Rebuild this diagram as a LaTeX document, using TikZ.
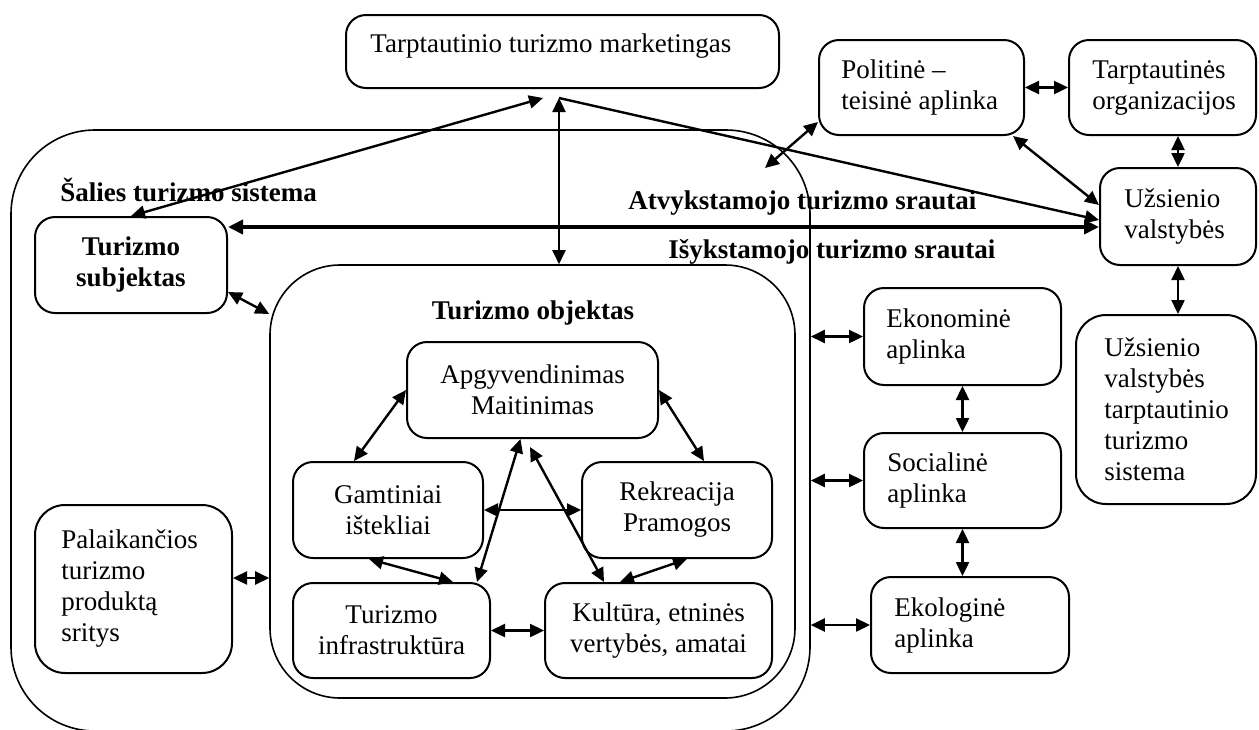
\documentclass[tikz,border=0pt]{standalone}
\usepackage{fontspec}
\setmainfont{Liberation Serif}
\usetikzlibrary{arrows.meta,calc}
\newcommand\fs{\fontsize{13.5pt}{15.5pt}\selectfont}
\tikzset{
 box/.style={draw, line width=1pt, rounded corners=10pt, inner sep=2pt, font=\fs, align=center},
 big/.style={draw, line width=0.8pt},
 lbl/.style={inner sep=0pt, align=left, font=\fs, anchor=west},
 dbl/.style={line width=1.2pt, {Triangle[length=7pt,width=6.5pt]}-{Triangle[length=7pt,width=6.5pt]}},
 sgl/.style={line width=1.2pt, -{Triangle[length=7pt,width=6.5pt]}},
}
\begin{document}
\begin{tikzpicture}[x=0.5pt,y=-0.5pt]
\useasboundingbox (0,0) rectangle (1259,729);
% big frames
\node[big, rounded corners=42pt, minimum width=399.5pt, minimum height=300.5pt] (outer) at (410.5,430.5) {};
\node[big, rounded corners=35pt, minimum width=262.5pt, minimum height=216.5pt] (inner) at (532.5,481.5) {};
% boxes
\node[box, minimum width=216.5pt, minimum height=36.5pt] (mkt) at (562.5,51.5) {};
\node[box, minimum width=102.5pt, minimum height=47.5pt] (pol) at (921.5,87.5) {};
\node[box, minimum width=93.5pt, minimum height=47.5pt] (org) at (1162.5,87.5) {};
\node[box, minimum width=78pt, minimum height=48.5pt] (uzs) at (1178,216.5) {};
\node[box, rounded corners=15pt, minimum width=90pt, minimum height=94.5pt] (sis) at (1166,409.5) {};
\node[box, minimum width=98.5pt, minimum height=48.5pt] (eko) at (962.5,336.5) {};
\node[box, minimum width=98.5pt, minimum height=47.5pt] (soc) at (962.5,480.5) {};
\node[box, minimum width=99pt, minimum height=48pt] (ekl) at (970,625) {};
\node[box, minimum width=96pt, minimum height=48pt, font=\fs\bfseries] (subj) at (131,265) {Turizmo\\subjektas};
\node[box, rounded corners=15pt, minimum width=98.5pt, minimum height=84pt] (pal) at (133.5,589) {};
\node[box, minimum width=125.5pt, minimum height=48pt] (apg) at (532.5,390) {Apgyvendinimas\\Maitinimas};
\node[box, minimum width=95pt, minimum height=48pt] (gam) at (388,510) {Gamtiniai\\ištekliai};
\node[box, minimum width=95pt, minimum height=48pt] (rek) at (677,510) {Rekreacija\\Pramogos};
\node[box, minimum width=98.5pt, minimum height=47.5pt] (inf) at (391.5,630.5) {Turizmo\\infrastruktūra};
\node[box, minimum width=113.5pt, minimum height=47.5pt] (kul) at (658.5,630.5) {Kultūra, etninės\\vertybės, amatai};
% left aligned texts
\node[lbl] (mktt) at (370,46) {Tarptautinio turizmo marketingas};
\node[lbl] (polt) at ([xshift=11.5pt]pol.west) {Politinė –\\teisinė aplinka};
\node[lbl] (orgt) at ([xshift=12pt]org.west) {Tarptautinės\\organizacijos};
\node[lbl] (uzst) at ([xshift=12.5pt]uzs.west) {Užsienio\\valstybės};
\node[lbl] (sist) at ([xshift=14.5pt]sis.west) {Užsienio\\valstybės\\tarptautinio\\turizmo\\sistema};
\node[lbl] (ekot) at ([xshift=11.5pt]eko.west) {Ekonominė\\aplinka};
\node[lbl] (soct) at ([xshift=12pt]soc.west) {Socialinė\\aplinka};
\node[lbl] (eklt) at ([xshift=12pt]ekl.west) {Ekologinė\\aplinka};
\node[lbl] (palt) at ([xshift=13.5pt]pal.west) {Palaikančios\\turizmo\\produktą\\sritys};
% bold titles
\node[lbl, font=\fs\bfseries] (salt) at (60,190) {Šalies turizmo sistema};
\node[lbl, anchor=center, font=\fs\bfseries] (objt) at (533,313) {Turizmo objektas};
\node[lbl, font=\fs\bfseries] (atvt) at (628,203) {Atvykstamojo turizmo srautai};
\node[lbl, font=\fs\bfseries] (isyt) at (668,252) {Išykstamojo turizmo srautai};
% free ends
\coordinate (m1) at (543,98);
\coordinate (m2) at (559,98);
\coordinate (pf) at (765,168);
\coordinate (ac) at (530,447);
% connectors
\draw[dbl] (m1) -- (subj.north);
\draw[dbl] (m2) -- (m2 |- inner.north);
\draw[sgl] (m2) -- ([yshift=-1.75pt]uzs.west);
\draw[line width=2pt, {Triangle[length=7.5pt,width=7pt]}-{Triangle[length=7.5pt,width=7pt]}] ([yshift=19pt]subj.east) -- ([yshift=-5.25pt]uzs.west);
\draw[dbl] ([xshift=-6pt]pol.south east) -- ([yshift=5.75pt]uzs.west);
\draw[dbl] ([yshift=-17.25pt]pol.west) -- (pf);
\draw[dbl] (pol.east) -- (org.west);
\draw[dbl] (uzs.north |- org.south) -- (uzs.north);
\draw[dbl] (uzs.south) -- (uzs.south |- sis.north);
\draw[dbl] (outer.east |- eko.west) -- (eko.west);
\draw[dbl] (outer.east |- soc.west) -- (soc.west);
\draw[dbl] (outer.east |- ekl.west) -- (ekl.west);
\draw[dbl] (eko.south) -- (soc.north);
\draw[dbl] (soc.south) -- (soc.south |- ekl.north);
\draw[dbl] ([yshift=-13.5pt]subj.east) -- (inner.west |- subj.south);
\draw[dbl] ([yshift=5.5pt]pal.east) -- ([yshift=5.5pt]pal.east -| inner.west);
\draw[dbl] (apg.west) -- ([xshift=-17pt]gam.north);
\draw[dbl] (apg.east) -- ([xshift=13.5pt]rek.north);
\draw[dbl] (gam.east) -- (rek.west);
\draw[dbl] ([xshift=-6pt]apg.south) -- ([xshift=-7pt]inf.north east);
\draw[dbl] (ac) -- ([xshift=-27.25pt]kul.north);
\draw[dbl] ([xshift=-9.5pt]gam.south) -- ([xshift=30.75pt]inf.north);
\draw[dbl] ([xshift=5pt]rek.south) -- ([xshift=-19.25pt]kul.north);
\draw[dbl] (inf.east) -- (kul.west);
\end{tikzpicture}
\end{document}
